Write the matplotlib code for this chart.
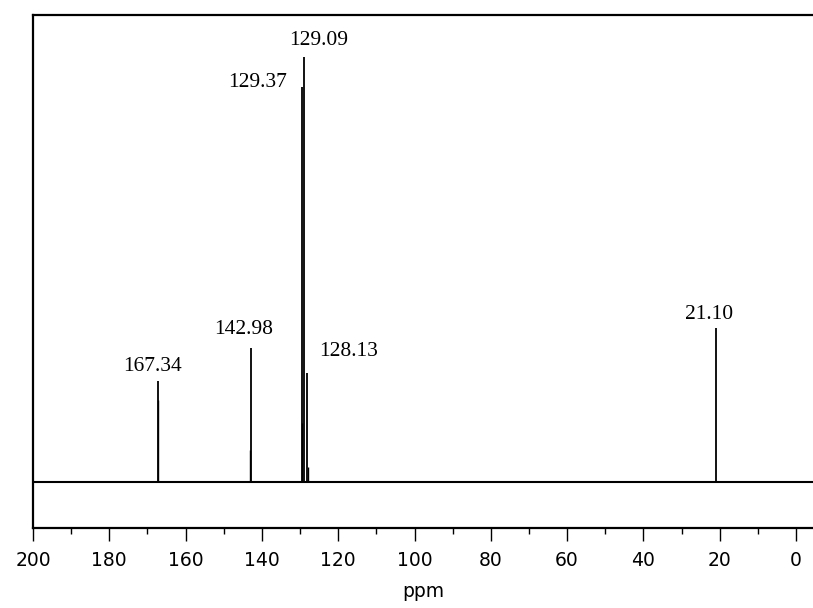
import numpy as np
import matplotlib.pyplot as plt

# chemical shifts (ppm) and peak intensities (arb. units)
shifts = [167.34, 142.98, 129.37, 129.09, 128.13, 21.10]
heights = [101, 134, 395, 425, 109, 154]
labels = ["167.34", "142.98", "129.37", "129.09", "128.13", "21.10"]

# unlabelled shoulder lines next to the main peaks
minor_shifts = [167.20, 143.20, 129.60, 127.85]
minor_heights = [82, 32, 59, 15]

# label offsets from the peak top, in pixels
label_offsets = [(-5, 10), (-7, 14), (-45, 0), (15, 12), (41, 17), (-6, 9)]

fig = plt.figure(figsize=(8.13, 6.08), dpi=100)
ax = fig.add_axes([33 / 813, 80 / 608, 780 / 813, 513 / 608])

# baseline across the whole range
ax.axhline(0, color="black", lw=1.5)
ax.vlines(shifts, 0, heights, color="black", lw=1.3)
ax.vlines(minor_shifts, 0, minor_heights, color="black", lw=1.0)

for s, h, lab, (dx, dy) in zip(shifts, heights, labels, label_offsets):
    ax.annotate(lab, xy=(s, h), xytext=(dx, dy), textcoords="offset pixels",
                ha="center", va="baseline", fontsize=15.5,
                family="Liberation Serif")

ax.set_xlim(200, -4.45)
ax.set_ylim(-46, 467)

ax.set_xticks(np.arange(0, 201, 20))
ax.set_xticks(np.arange(0, 201, 10), minor=True)
ax.set_yticks([])
ax.tick_params(axis="x", which="major", length=9.5, width=1.0, pad=7,
               labelsize=13.5, direction="out")
ax.tick_params(axis="x", which="minor", length=4.3, width=1.0, direction="out")

for side in ["top", "left", "bottom"]:
    ax.spines[side].set_linewidth(1.6)
ax.spines["right"].set_visible(False)

ax.set_xlabel("ppm", fontsize=13.5, labelpad=9)

fig.savefig("out.png", dpi=100)
